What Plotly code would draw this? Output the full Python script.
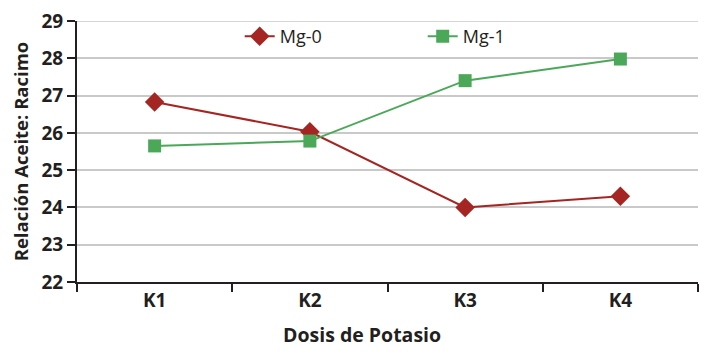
import plotly.graph_objects as go

categories = ["K1", "K2", "K3", "K4"]
mg0 = [26.83, 26.03, 24.0, 24.3]
mg1 = [25.65, 25.78, 27.4, 27.98]
y_ticks = [22, 23, 24, 25, 26, 27, 28, 29]

red = "#a52522"
green = "#4ba859"
dark = "#231f20"
grid = "#c9c9c9"

fig = go.Figure()
fig.add_trace(go.Scatter(x=categories, y=mg0, name="Mg-0", mode="lines+markers",
                         line=dict(color=red, width=2),
                         marker=dict(symbol="diamond", size=15, color=red)))
fig.add_trace(go.Scatter(x=categories, y=mg1, name="Mg-1", mode="lines+markers",
                         line=dict(color=green, width=2),
                         marker=dict(symbol="square", size=13, color=green)))

fig.update_layout(
    width=712, height=358,
    margin=dict(l=69, r=22, t=10, b=84),
    paper_bgcolor="white", plot_bgcolor="white",
    font=dict(family="Open Sans", color=dark),
    legend=dict(orientation="h", x=0.262, xanchor="left", y=0.94, yanchor="middle",
                font=dict(size=18, color=dark), bgcolor="rgba(0,0,0,0)",
                entrywidth=138),
    showlegend=True,
)
fig.update_xaxes(
    type="category", range=[-0.5, 3.5], automargin=False,
    showline=True, linecolor=dark, linewidth=2,
    ticks="outside", tickson="boundaries", ticklen=8, tickwidth=2, tickcolor=dark,
    tickfont=dict(size=19, family="Open Sans", weight="bold", color=dark),
    showgrid=False,
)
fig.add_annotation(text="<b>Dosis de Potasio</b>", xref="paper", yref="paper",
                   x=0.459, y=-0.2, xanchor="center", yanchor="middle",
                   showarrow=False, font=dict(size=19.5, color=dark))
fig.update_yaxes(
    range=[22, 29], tickvals=y_ticks, automargin=False, ticklabeloverflow="allow",
    showline=True, linecolor=dark, linewidth=2,
    ticks="outside", ticklen=8, tickwidth=2, tickcolor=dark,
    tickfont=dict(size=19, family="Open Sans", weight="bold", color=dark),
    title=dict(text="<b>Relación Aceite: Racimo</b>", font=dict(size=18.5, color=dark), standoff=12),
    showgrid=True, gridcolor=grid, gridwidth=1.5,
    zeroline=False,
)
# top gridline (plotly clips the one lying on the plot edge)
fig.add_shape(type="line", xref="paper", yref="y", x0=0, x1=1,
              y0=max(y_ticks), y1=max(y_ticks),
              line=dict(color=grid, width=1.5), layer="below")

fig.write_html("out.html")
